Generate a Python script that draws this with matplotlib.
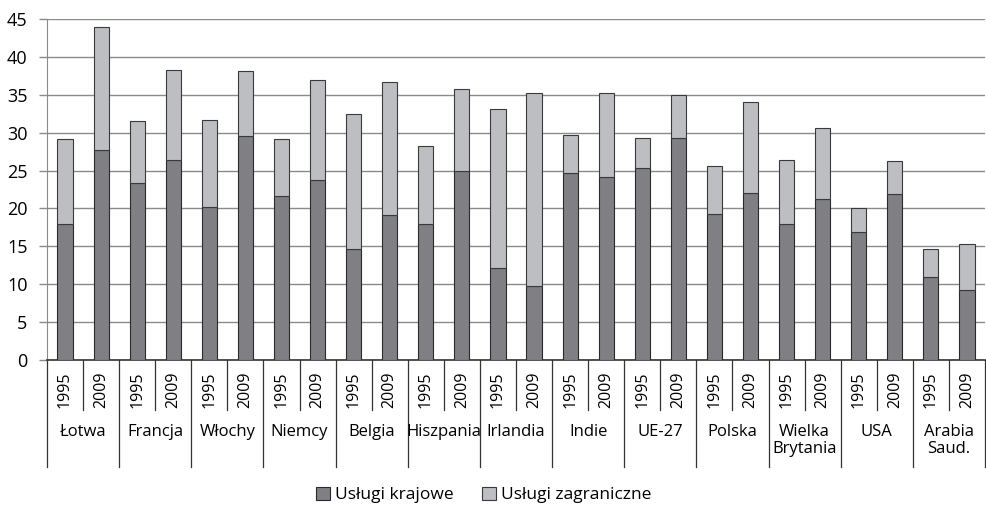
import matplotlib.pyplot as plt
import matplotlib.transforms as mtransforms
import numpy as np

plt.rcParams['font.family'] = ['Open Sans', 'DejaVu Sans']

# dane
countries = ['Łotwa', 'Francja', 'Włochy', 'Niemcy', 'Belgia', 'Hiszpania',
             'Irlandia', 'Indie', 'UE-27', 'Polska', 'Wielka\nBrytania',
             'USA', 'Arabia\nSaud.']
years = ['1995', '2009']
krajowe = [18.0, 27.7, 23.4, 26.4, 20.2, 29.5, 21.6, 23.8, 14.7, 19.1,
           18.0, 24.9, 12.2, 9.8, 24.7, 24.2, 25.3, 29.3, 19.3, 22.1,
           17.9, 21.3, 16.9, 21.9, 11.0, 9.3]
razem = [29.1, 44.0, 31.5, 38.3, 31.7, 38.1, 29.2, 36.9, 32.5, 36.7,
         28.2, 35.7, 33.1, 35.3, 29.7, 35.3, 29.3, 35.0, 25.6, 34.1,
         26.4, 30.6, 20.1, 26.3, 14.6, 15.3]
zagraniczne = [t - k for t, k in zip(razem, krajowe)]

dark = '#808084'
light = '#bdbec1'
grid_c = '#8a8a8a'

fig = plt.figure(figsize=(9.87, 5.09), dpi=100)
ax = fig.add_axes([47 / 987, 149 / 509, 938 / 987, 341 / 509])

x = np.arange(len(krajowe))
ax.bar(x, krajowe, width=0.42, color=dark, edgecolor='#2a2a2a', linewidth=0.8,
       label='Usługi krajowe', zorder=3)
ax.bar(x, zagraniczne, bottom=krajowe, width=0.42, color=light,
       edgecolor='#3a3a3a', linewidth=0.8, label='Usługi zagraniczne', zorder=3)

ax.set_xlim(-0.5, len(krajowe) - 0.5)
ax.set_ylim(0, 45)
ax.set_yticks(range(0, 46, 5))
ax.yaxis.grid(True, color=grid_c, linewidth=1.0, zorder=0)
ax.tick_params(axis='y', length=6, width=1.0, color=grid_c, pad=8, labelsize=13)
ax.set_xticks([])
for s in ['top', 'right']:
    ax.spines[s].set_visible(False)
ax.spines['left'].set_color(grid_c)
ax.spines['bottom'].set_color('#333333')
ax.spines['bottom'].set_linewidth(1.2)

# wielopoziomowa oś kategorii
trans = mtransforms.blended_transform_factory(ax.transData, ax.transAxes)
ax_h = 341.0
for i in range(len(krajowe) + 1):
    xs = i - 0.5
    if i % 2 == 0:
        y_end = -107 / ax_h
    else:
        y_end = -50 / ax_h
    ax.plot([xs, xs], [0, y_end], color='#333333', linewidth=0.9,
            transform=trans, clip_on=False)

for i in range(len(krajowe)):
    ax.text(i, -12 / ax_h, years[i % 2], rotation=90, ha='center', va='top',
            fontsize=11.5, transform=trans)

for j, c in enumerate(countries):
    ax.text(2 * j + 0.5, -64 / ax_h, c, ha='center', va='top', fontsize=12,
            linespacing=1.1, transform=trans)

fig.legend(loc='center', bbox_to_anchor=(0.49, 14 / 509), ncol=2,
           frameon=False, fontsize=12.5, handlelength=0.8, handleheight=0.8,
           handletextpad=0.3, columnspacing=1.6)

fig.savefig('out.png', dpi=100)
